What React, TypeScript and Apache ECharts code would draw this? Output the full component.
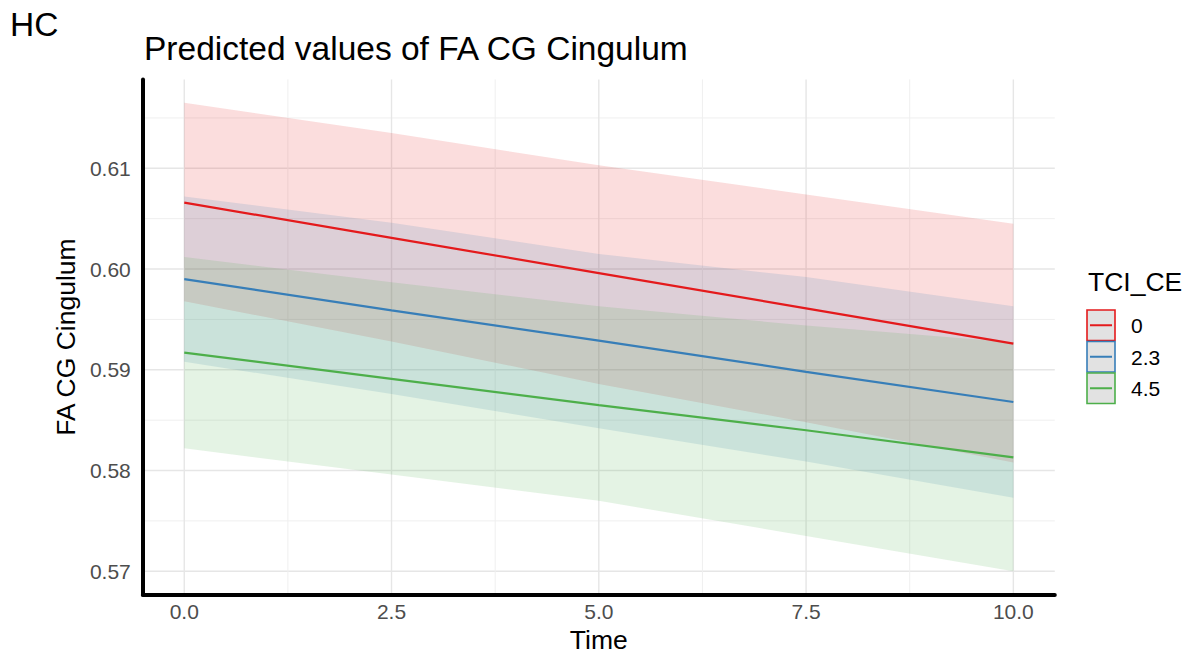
import React, { useEffect, useRef } from "react";
import * as echarts from "echarts";

// ---- data ----
const time = [0, 2.5, 5, 7.5, 10];
const groups = ["0", "2.3", "4.5"];
const colors = ["#E41A1C", "#377EB8", "#4DAF4A"];

const pred0 = [0.6066, 0.6031, 0.5996, 0.5961, 0.5926];
const upper0 = [0.6165, 0.6135, 0.6103, 0.6074, 0.6045];
const lower0 = [0.5968, 0.5928, 0.5886, 0.5848, 0.5808];

const pred23 = [0.599, 0.5959, 0.5929, 0.5898, 0.5868];
const upper23 = [0.6072, 0.6046, 0.6015, 0.5992, 0.5963];
const lower23 = [0.5908, 0.5876, 0.5842, 0.5809, 0.5773];

const pred45 = [0.5917, 0.5891, 0.5865, 0.584, 0.5813];
const upper45 = [0.6012, 0.5987, 0.5963, 0.5944, 0.5927];
const lower45 = [0.5822, 0.5796, 0.577, 0.5735, 0.57];

const xTicks = [0, 2.5, 5, 7.5, 10];
const xMinorTicks = [1.25, 3.75, 6.25, 8.75];
const yTicks = [0.57, 0.58, 0.59, 0.6, 0.61];
const yMinorTicks = [0.575, 0.585, 0.595, 0.605, 0.615];

const FONT = "'Liberation Sans', Arial, Helvetica, sans-serif";

export default function App() {
  const ref = useRef<HTMLDivElement>(null);

  useEffect(() => {
    if (!ref.current) return;
    const chart = echarts.init(ref.current, undefined, { renderer: "svg" });

    const preds = [pred0, pred23, pred45];
    const uppers = [upper0, upper23, upper45];
    const lowers = [lower0, lower23, lower45];

    const X_MIN = -0.5;
    const X_MAX = 10.5;
    const Y_MIN = 0.567675;
    const Y_MAX = 0.618825;

    // gridline specs: [orientation (0 = horizontal, 1 = vertical), value, major?]
    const gridSpecs: number[][] = [
      ...yMinorTicks.map((v) => [0, v, 0]),
      ...yTicks.map((v) => [0, v, 1]),
      ...xMinorTicks.map((v) => [1, v, 0]),
      ...xTicks.map((v) => [1, v, 1]),
    ];

    const series: any[] = [];

    // gridlines, drawn through the axes' scales, under everything else
    series.push({
      type: "custom",
      name: "grid",
      silent: true,
      z: 0,
      data: gridSpecs.map((_, i) => [i]),
      encode: { x: 0 },
      renderItem: (params: any, api: any) => {
        const [o, v, major] = gridSpecs[params.dataIndex];
        const p1 = o === 0 ? api.coord([X_MIN, v]) : api.coord([v, Y_MIN]);
        const p2 = o === 0 ? api.coord([X_MAX, v]) : api.coord([v, Y_MAX]);
        return {
          type: "line",
          shape: { x1: p1[0], y1: p1[1], x2: p2[0], y2: p2[1] },
          style: { stroke: major ? "#e6e6e6" : "#efefef", lineWidth: major ? 1.4 : 1 },
        };
      },
    });

    // confidence ribbons as polygons via the axes' coord transform
    series.push({
      type: "custom",
      name: "ribbons",
      silent: true,
      z: 2,
      data: groups.map((_, i) => [i]),
      encode: { x: 0 },
      renderItem: (params: any, api: any) => {
        const i = params.dataIndex;
        const top = time.map((t, k) => api.coord([t, uppers[i][k]]));
        const bottom = time.map((t, k) => api.coord([t, lowers[i][k]])).reverse();
        return {
          type: "polygon",
          shape: { points: top.concat(bottom) },
          style: { fill: colors[i], opacity: 0.15 },
        };
      },
    });

    groups.forEach((g, i) => {
      series.push({
        type: "line",
        name: g,
        symbol: "none",
        z: 5,
        lineStyle: { color: colors[i], width: 2.2 },
        data: time.map((t, k) => [t, preds[i][k]]),
      });
    });

    // legend drawn as graphic
    const keyX = 1087;
    const keyW = 28;
    const keyH = 31.5;
    const keyTop = 310;
    const legendEls: any[] = [
      {
        type: "text",
        x: keyX + 1,
        y: 282,
        style: {
          text: "TCI_CE",
          fontFamily: FONT,
          fontSize: 26.5,
          fill: "#000",
          verticalAlign: "middle",
          align: "left",
        },
      },
    ];
    groups.forEach((g, i) => {
      const y0 = keyTop + i * keyH;
      legendEls.push({
        type: "rect",
        shape: { x: keyX, y: y0, width: keyW, height: keyH - 1 },
        style: { fill: "#e2e2e2", stroke: colors[i], lineWidth: 1.6 },
      });
      legendEls.push({
        type: "line",
        shape: { x1: keyX + 3, y1: y0 + (keyH - 1) / 2, x2: keyX + keyW - 3, y2: y0 + (keyH - 1) / 2 },
        style: { stroke: colors[i], lineWidth: 2 },
      });
      legendEls.push({
        type: "text",
        x: 1131,
        y: y0 + keyH / 2,
        style: {
          text: g,
          fontFamily: FONT,
          fontSize: 21,
          fill: "#000",
          verticalAlign: "middle",
          align: "left",
        },
      });
    });

    const option: any = {
      animation: false,
      backgroundColor: "#ffffff",
      textStyle: { fontFamily: FONT },
      grid: {
        left: 142.8,
        right: 137.2,
        top: 79.4,
        bottom: 63.3,
        containLabel: false,
        outerBoundsMode: "none",
      },
      xAxis: {
        type: "value",
        min: X_MIN,
        max: X_MAX,
        name: "Time",
        nameLocation: "middle",
        nameGap: 30,
        nameTextStyle: { fontFamily: FONT, fontSize: 26.5, color: "#000" },
        axisLine: { show: true, onZero: false, lineStyle: { color: "#000", width: 4 } },
        axisTick: { show: false },
        splitLine: { show: false },
        axisLabel: {
          customValues: xTicks,
          formatter: (v: number) => v.toFixed(1),
          fontFamily: FONT,
          fontSize: 21,
          color: "#4d4d4d",
          margin: 6,
          showMinLabel: true,
          showMaxLabel: true,
        },
      },
      yAxis: {
        type: "value",
        min: Y_MIN,
        max: Y_MAX,
        name: "FA CG Cingulum",
        nameLocation: "middle",
        nameGap: 59,
        nameRotate: 90,
        nameTextStyle: { fontFamily: FONT, fontSize: 26.5, color: "#000" },
        axisLine: { show: true, onZero: false, lineStyle: { color: "#000", width: 4 } },
        axisTick: { show: false },
        splitLine: { show: false },
        axisLabel: {
          customValues: yTicks,
          formatter: (v: number) => v.toFixed(2),
          fontFamily: FONT,
          fontSize: 21,
          color: "#4d4d4d",
          margin: 12,
          showMinLabel: true,
          showMaxLabel: true,
        },
      },
      graphic: [
        {
          type: "text",
          x: 10,
          y: 24,
          style: { text: "HC", fontFamily: FONT, fontSize: 33.5, fill: "#000", verticalAlign: "middle", align: "left" },
        },
        {
          type: "text",
          x: 144,
          y: 48.5,
          style: {
            text: "Predicted values of FA CG Cingulum",
            fontFamily: FONT,
            fontSize: 33.5,
            fill: "#000",
            verticalAlign: "middle",
            align: "left",
          },
        },
        ...legendEls,
      ],
      series,
    };

    chart.setOption(option);
    return () => chart.dispose();
  }, []);

  return (
    <div
      ref={ref}
      style={{ position: "fixed", left: 0, top: 0, width: 1192, height: 658, background: "#fff" }}
    />
  );
}
